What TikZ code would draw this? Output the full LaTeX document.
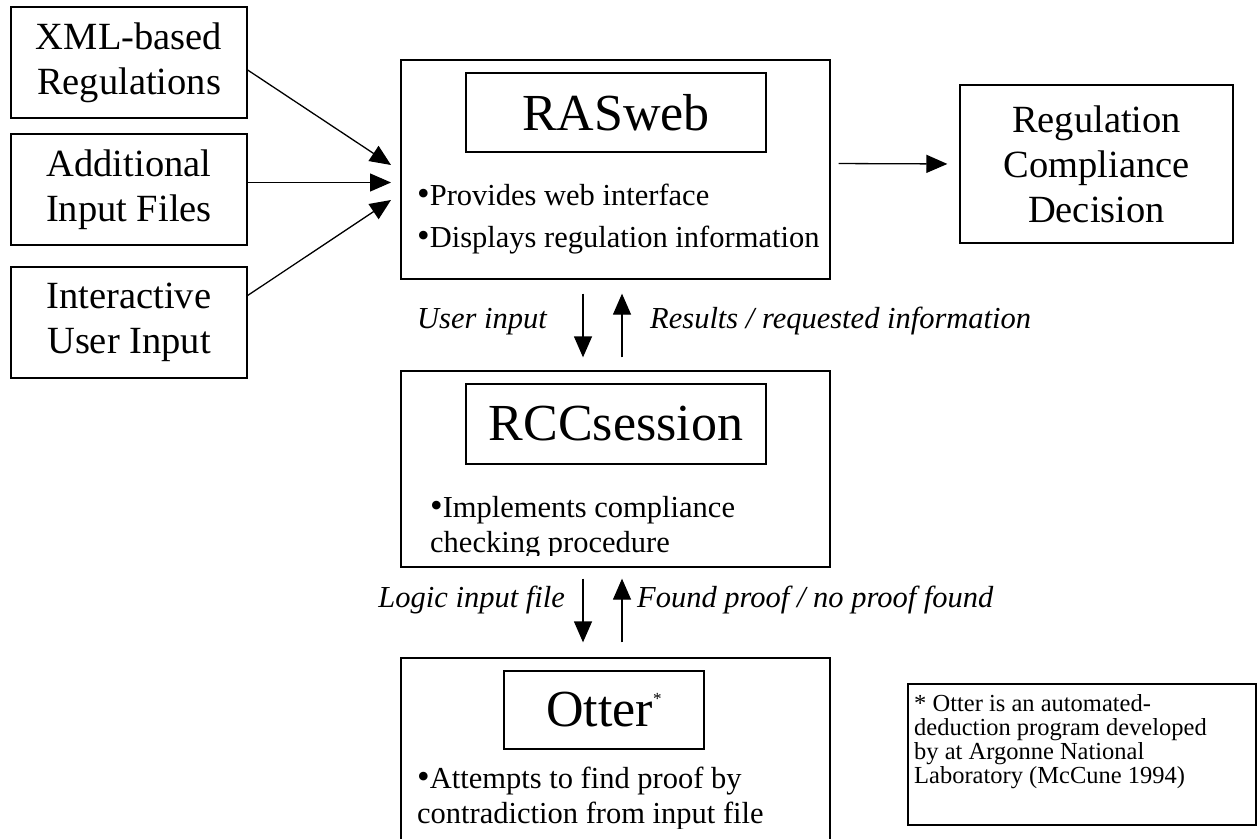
\documentclass[tikz,border=0pt]{standalone}
\usepackage{fontspec}
\setmainfont{Liberation Serif}
\usetikzlibrary{arrows.meta}
% enlarged bullet used in the component boxes
\newcommand{\itembul}{{\fontsize{36}{36}\selectfont\textbullet}}
\begin{document}
\begin{tikzpicture}[x=1pt,y=-1pt,
  frame/.style={draw, line width=1.3pt, inner sep=0pt},
  boxtext/.style={font=\fontsize{38.5}{45}\selectfont, align=center},
  title/.style={font=\fontsize{52}{60}\selectfont},
  bullettext/.style={font=\fontsize{30.5}{36}\selectfont, anchor=base west, inner sep=0pt},
  flowlabel/.style={font=\fontsize{30.5}{36}\selectfont\itshape, inner sep=0pt},
  notetext/.style={font=\fontsize{24.5}{24}\selectfont, align=left, inner sep=0pt, anchor=north west},
  arr/.style={line width=1.3pt, -{Triangle[length=21pt,width=18pt]}}]

% page and visible area
\fill[white] (0,0) rectangle (1257,838);
\clip (0,0) rectangle (1257,838);

% input sources
\node[frame, boxtext, minimum width=236pt, minimum height=111pt] (xml) at (129,62.5) {XML-based\\Regulations};
\node[frame, boxtext, minimum width=236pt, minimum height=111pt] (add) at (129,189.5) {Additional\\Input Files};
\node[frame, boxtext, minimum width=236pt, minimum height=111pt] (iui) at (129,322.5) {Interactive\\User Input};

% RASweb component
\node[frame, minimum width=429pt, minimum height=219pt] (ras) at (615.5,169.5) {};
\node[frame, title, minimum width=300pt, minimum height=79pt] (rastitle) at (616,112.5) {RASweb};
\node[bullettext] (rasb1) at (417,205) {\itembul Provides web interface};
\node[bullettext] (rasb2) at (417,247) {\itembul Displays regulation information};

% decision output
\node[frame, boxtext, minimum width=273pt, minimum height=158pt] (rcd) at (1096.5,164) {Regulation\\Compliance\\Decision};

% RCCsession component
\node[frame, minimum width=429pt, minimum height=196pt] (rcc) at (615.5,469) {};
\node[frame, title, minimum width=300pt, minimum height=80pt] (rcctitle) at (616,424) {RCCsession};
\begin{scope}
  \clip (401,371) rectangle (830,555.5);
  \node[bullettext] (rccb1) at (430,517) {\itembul Implements compliance};
  \node[bullettext] (rccb2) at (430,552.5) {checking procedure};
\end{scope}

% Otter component
\node[frame, minimum width=429pt, minimum height=242pt] (otter) at (615.5,779) {};
\node[frame, title, minimum width=200pt, minimum height=78pt] (ottertitle) at (604,710) {Otter\raisebox{22pt}{\fontsize{17}{17}\selectfont *}};
\begin{scope}
  \clip (401,658) rectangle (830,828);
  \node[bullettext] (otb1) at (417,788) {\itembul Attempts to find proof by};
  \node[bullettext] (otb2) at (417,823) {contradiction from input file};
\end{scope}

% footnote
\node[frame, minimum width=348pt, minimum height=141pt] (note) at (1082,754.5) {};
\node[notetext] (notet) at (914,694) {* Otter is an automated-\\deduction program developed\\by at Argonne National\\Laboratory (McCune 1994)};

% connectors into RASweb
\coordinate (in1) at (391,165);
\coordinate (in2) at (391,182.5);
\coordinate (in3) at (391,200);
\draw[arr] ([yshift=-7.5pt]xml.east) -- (in1);
\draw[arr] ([yshift=7pt]add.east) -- (in2);
\draw[arr] ([yshift=27pt]iui.east) -- (in3);
\draw[arr, shorten <=8pt, shorten >=12pt] ([yshift=6pt]ras.east) -- ([yshift=0pt]rcd.west);

% RASweb <-> RCCsession
\draw[arr] ([xshift=-32.5pt,yshift=-14pt]ras.south) -- ([xshift=-32.5pt,yshift=13pt]rcc.north);
\draw[arr] ([xshift=6.5pt,yshift=13pt]rcc.north) -- ([xshift=6.5pt,yshift=-14pt]ras.south);
\node[flowlabel, anchor=base east] (lab1) at (547,328) {User input};
\node[flowlabel, anchor=base west] (lab2) at (650,328) {Results / requested information};

% RCCsession <-> Otter
\draw[arr] ([xshift=-32.5pt,yshift=-11pt]rcc.south) -- ([xshift=-32.5pt,yshift=15pt]otter.north);
\draw[arr] ([xshift=6.5pt,yshift=15pt]otter.north) -- ([xshift=6.5pt,yshift=-11pt]rcc.south);
\node[flowlabel, anchor=base east] (lab3) at (565,607) {Logic input file};
\node[flowlabel, anchor=base west] (lab4) at (637,607) {Found proof / no proof found};
\end{tikzpicture}
\end{document}
